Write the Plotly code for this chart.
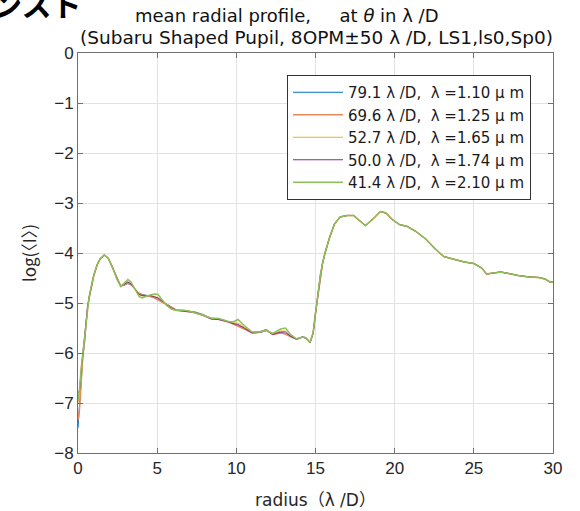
import plotly.graph_objects as go

# radius grid (lambda/D)
r_inner = [0, 0.1, 0.2, 0.3, 0.4, 0.5, 0.6, 0.7, 0.85, 1.0,
           1.2, 1.4, 1.65, 1.9, 2.2, 2.45, 2.7, 2.95, 3.15, 3.35,
           3.6, 3.85, 4.05, 4.3, 4.55, 4.85, 5.05, 5.3, 5.6, 5.9,
           6.2, 6.6, 7.0, 7.4, 7.9, 8.4, 8.9, 9.2, 9.5, 9.8,
           10.1, 10.5, 11.0, 11.5, 11.9, 12.3, 12.8, 13.1, 13.4, 13.8,
           14.2, 14.4, 14.65, 14.85]
r_outer = [15.0, 15.15, 15.3, 15.45, 15.6, 15.9, 16.2, 16.55, 17.0, 17.4,
           17.7, 18.15, 18.6, 19.1, 19.45, 19.85, 20.3, 20.8, 21.35, 22.0,
           22.5, 23.1, 23.8, 24.4, 25.0, 25.5, 25.8, 26.2, 26.7, 27.2,
           27.8, 28.5, 29.1, 29.5, 29.8, 30.0]

# inner (r < 15) log mean intensity per wavelength
inner_110 = [-7.5, -7.0, -6.5, -6.1, -5.85, -5.45, -5.1, -4.9, -4.67, -4.45,
             -4.25, -4.12, -4.04, -4.1, -4.3, -4.5, -4.66, -4.64, -4.61, -4.64,
             -4.72, -4.8, -4.83, -4.85, -4.86, -4.9, -4.93, -4.97, -5.02, -5.08,
             -5.14, -5.15, -5.16, -5.18, -5.23, -5.31, -5.32, -5.34, -5.37, -5.41,
             -5.46, -5.51, -5.59, -5.57, -5.53, -5.62, -5.59, -5.61, -5.66, -5.72,
             -5.67, -5.7, -5.8, -5.6]
inner_125 = [-7.35, -7.1, -6.6, -6.05, -5.8, -5.42, -5.09, -4.9, -4.66, -4.45,
             -4.25, -4.12, -4.04, -4.1, -4.31, -4.5, -4.66, -4.63, -4.6, -4.63,
             -4.72, -4.81, -4.84, -4.85, -4.87, -4.9, -4.93, -4.98, -5.03, -5.09,
             -5.14, -5.16, -5.17, -5.19, -5.24, -5.31, -5.33, -5.35, -5.38, -5.42,
             -5.47, -5.52, -5.6, -5.58, -5.54, -5.63, -5.6, -5.62, -5.67, -5.72,
             -5.68, -5.7, -5.79, -5.6]
inner_165 = [-7.0, -6.85, -6.45, -6.05, -5.8, -5.43, -5.1, -4.89, -4.66, -4.44,
             -4.24, -4.12, -4.04, -4.1, -4.3, -4.51, -4.66, -4.62, -4.57, -4.61,
             -4.73, -4.83, -4.86, -4.86, -4.85, -4.87, -4.89, -4.95, -5.03, -5.1,
             -5.14, -5.15, -5.16, -5.19, -5.24, -5.3, -5.32, -5.34, -5.37, -5.4,
             -5.4, -5.48, -5.59, -5.58, -5.54, -5.62, -5.56, -5.56, -5.64, -5.72,
             -5.68, -5.7, -5.79, -5.6]
inner_174 = [-6.8, -6.75, -6.35, -6.0, -5.78, -5.42, -5.1, -4.89, -4.66, -4.44,
             -4.24, -4.12, -4.04, -4.1, -4.3, -4.51, -4.67, -4.62, -4.58, -4.62,
             -4.73, -4.83, -4.85, -4.86, -4.85, -4.88, -4.9, -4.96, -5.04, -5.1,
             -5.15, -5.16, -5.17, -5.19, -5.25, -5.32, -5.33, -5.35, -5.38, -5.41,
             -5.43, -5.5, -5.6, -5.59, -5.55, -5.63, -5.58, -5.58, -5.66, -5.73,
             -5.68, -5.71, -5.8, -5.61]
inner_210 = [-6.95, -6.7, -6.3, -6.0, -5.75, -5.4, -5.08, -4.88, -4.65, -4.44,
             -4.24, -4.11, -4.04, -4.1, -4.3, -4.52, -4.67, -4.6, -4.53, -4.58,
             -4.74, -4.87, -4.9, -4.87, -4.84, -4.82, -4.83, -4.93, -5.05, -5.12,
             -5.15, -5.14, -5.16, -5.2, -5.25, -5.3, -5.31, -5.34, -5.37, -5.38,
             -5.33, -5.45, -5.58, -5.58, -5.55, -5.61, -5.52, -5.5, -5.62, -5.72,
             -5.68, -5.7, -5.79, -5.6]

# outer (r >= 15) halo, identical for all wavelengths
outer_all = [-5.2, -4.85, -4.45, -4.2, -4.0, -3.68, -3.42, -3.28, -3.25, -3.25,
             -3.33, -3.45, -3.33, -3.17, -3.2, -3.33, -3.43, -3.47, -3.57, -3.73,
             -3.9, -4.07, -4.13, -4.18, -4.21, -4.3, -4.42, -4.4, -4.38, -4.41,
             -4.45, -4.48, -4.49, -4.52, -4.58, -4.58]

series_names = ["79.1 λ /D,\u00a0 λ =1.10 μ m",
                "69.6 λ /D,\u00a0 λ =1.25 μ m",
                "52.7 λ /D,\u00a0 λ =1.65 μ m",
                "50.0 λ /D,\u00a0 λ =1.74 μ m",
                "41.4 λ /D,\u00a0 λ =2.10 μ m"]
series_inner = [inner_110, inner_125, inner_165, inner_174, inner_210]
colors = ["#0072BD", "#E8875C", "#EDB120", "#7E2F8E", "#8CC05A"]
widths = [1, 1.5, 1, 1, 1.5]

radius = r_inner + r_outer

fig = go.Figure()
for name, inner, c, w in zip(series_names, series_inner, colors, widths):
    fig.add_trace(go.Scatter(x=radius, y=inner + outer_all, mode="lines",
                             name=name, line=dict(color=c, width=w)))

L, R, T, B = 78, 27, 53, 58
W, H = 580, 511
pw, ph = W - L - R, H - T - B

def px_x(p):
    return (p - L) / pw

def px_y(p):
    return 1 - (p - T) / ph

txt = "DejaVu Sans, Noto Sans CJK JP"
cjk = "Noto Sans CJK JP"
axis_common = dict(showline=True, linecolor="#707070", linewidth=1, mirror="ticks",
                   ticks="inside", ticklen=5, tickcolor="#707070", automargin=False,
                   showgrid=True, gridcolor="#e2e2e2", gridwidth=1, zeroline=False,
                   tickfont=dict(family="Liberation Sans", size=17, color="#262626"))

fig.update_layout(
    width=W, height=H,
    margin=dict(l=L, r=R, t=T, b=B),
    paper_bgcolor="white", plot_bgcolor="white",
    showlegend=True,
    legend=dict(x=px_x(531), y=px_y(75), xanchor="right", yanchor="top",
                bgcolor="white", bordercolor="#333333", borderwidth=1,
                font=dict(family=txt, size=15, color="#1a1a1a"),
                itemwidth=50, tracegroupgap=0),
    xaxis=dict(range=[0, 30], dtick=5, **axis_common,
               title=dict(text="radius（λ /D）", font=dict(family=txt, size=17, color="#262626"),
                          standoff=16)),
    yaxis=dict(range=[-8, 0], dtick=1, **axis_common,
               title=dict(text="log(〈I〉)", font=dict(family=cjk, size=17, color="#262626"),
                          standoff=13)),
)

fig.add_annotation(xref="paper", yref="paper", x=px_x(287), y=px_y(16),
                   text="mean radial profile,\u00a0\u00a0\u00a0\u00a0 at <i>θ</i> in λ /D",
                   showarrow=False, xanchor="center", yanchor="middle",
                   font=dict(family=txt, size=18, color="#111111"))
fig.add_annotation(xref="paper", yref="paper", x=px_x(316), y=px_y(38),
                   text="(Subaru Shaped Pupil, 8OPM±50 λ /D, LS1,ls0,Sp0)",
                   showarrow=False, xanchor="center", yanchor="middle",
                   font=dict(family=txt, size=18.5, color="#111111"))
fig.add_annotation(xref="paper", yref="paper", x=px_x(-10), y=px_y(3),
                   text="ンスト", showarrow=False, xanchor="left", yanchor="middle",
                   font=dict(family=cjk, size=30, color="#000000", weight=700))

fig.write_html("out.html", config={"displayModeBar": False},
               post_script="document.body.style.margin='0px';")
